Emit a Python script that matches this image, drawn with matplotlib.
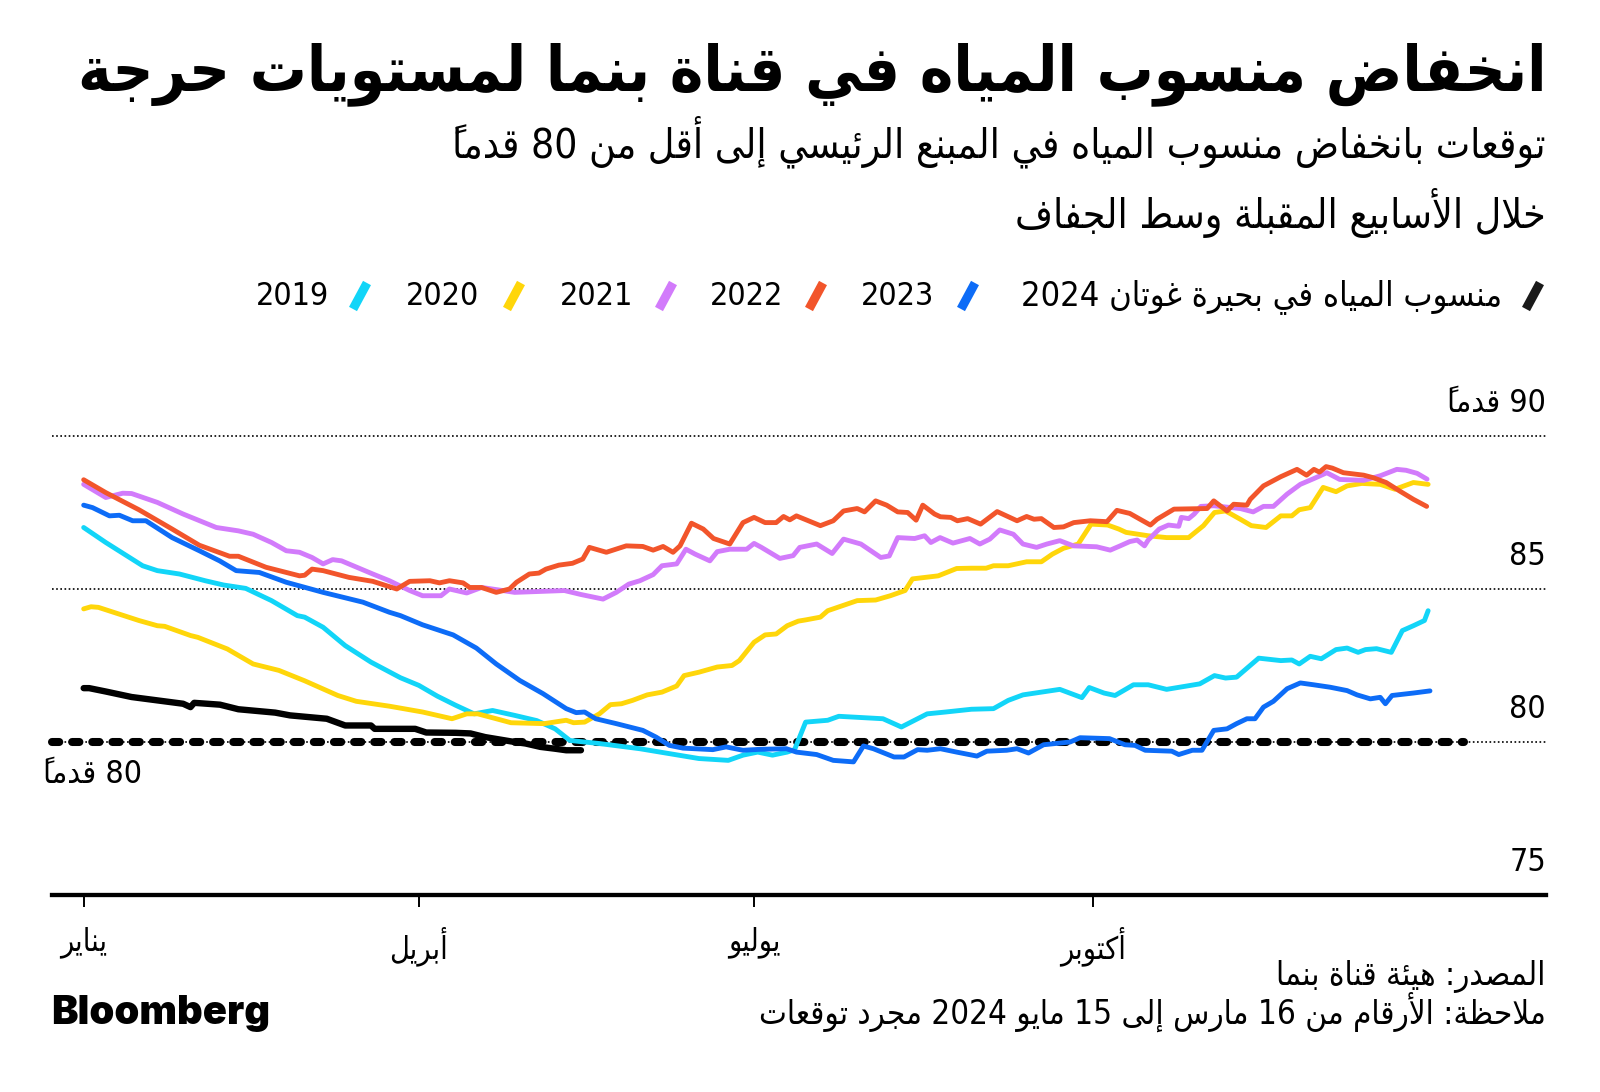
import numpy as np
import matplotlib
matplotlib.use("Agg")
import matplotlib.pyplot as plt
from matplotlib.lines import Line2D

plt.rcParams['font.family'] = ['DejaVu Sans']
plt.rcParams['font.stretch'] = 'condensed'

# --- data (day of year, lake level in feet) ---
lake_2019 = [(0, 87.01), (6, 86.52), (16, 85.76), (20, 85.6), (26, 85.49), (33, 85.27), (38, 85.13),
             (44, 85.02), (51, 84.62), (58, 84.13), (60, 84.08), (65, 83.75), (71, 83.15), (78, 82.61),
             (86, 82.1), (91, 81.85), (96, 81.5), (101, 81.2), (106, 80.92), (111, 81.03), (117, 80.87),
             (123, 80.7), (128, 80.43), (132, 80.05), (140, 79.95), (151, 79.78), (159, 79.62),
             (167, 79.46), (175, 79.4), (179, 79.57), (183, 79.67), (187, 79.57), (191, 79.67),
             (193, 79.75), (196, 80.65), (202, 80.71), (205, 80.84), (217, 80.76), (222, 80.49),
             (229, 80.92), (234, 80.98), (241, 81.07), (247, 81.09), (251, 81.36), (255, 81.54),
             (260, 81.63), (265, 81.72), (271, 81.45), (273, 81.78), (277, 81.6), (280, 81.52),
             (285, 81.87), (289, 81.87), (294, 81.72), (298, 81.8), (303, 81.9), (307, 82.17),
             (310, 82.09), (313, 82.12), (319, 82.74), (325, 82.66), (328, 82.68), (330, 82.55),
             (333, 82.8), (336, 82.72), (340, 83.02), (343, 83.07), (346, 82.93), (348, 83.02),
             (351, 83.05), (353, 82.99), (355, 82.93), (358, 83.64), (361, 83.8), (364, 83.97),
             (365, 84.29)]

lake_2020 = [(0, 84.35), (2, 84.42), (4, 84.4), (15, 83.97), (20, 83.8), (22, 83.78), (29, 83.48),
             (31, 83.42), (39, 83.04), (46, 82.55), (53, 82.34), (60, 82.0), (69, 81.52), (74, 81.33),
             (83, 81.17), (92, 80.98), (100, 80.76), (104, 80.92), (107, 80.92), (112, 80.76),
             (116, 80.63), (125, 80.6), (131, 80.71), (133, 80.63), (136, 80.65), (140, 80.92),
             (143, 81.22), (146, 81.25), (149, 81.36), (153, 81.54), (157, 81.63), (161, 81.83),
             (163, 82.17), (167, 82.28), (172, 82.45), (176, 82.5), (178, 82.66), (182, 83.26),
             (185, 83.5), (188, 83.53), (191, 83.8), (194, 83.95), (196, 83.99), (200, 84.08),
             (202, 84.29), (210, 84.62), (215, 84.64), (219, 84.78), (223, 84.95), (225, 85.33),
             (232, 85.43), (237, 85.67), (241, 85.68), (245, 85.68), (247, 85.76), (251, 85.76),
             (256, 85.89), (260, 85.89), (263, 86.14), (266, 86.33), (270, 86.47), (273.5, 87.12),
             (278, 87.09), (281, 86.96), (283, 86.85), (289, 86.74), (294, 86.68), (300, 86.68),
             (304, 87.07), (307, 87.5), (310, 87.55), (314, 87.28), (317, 87.07), (321, 87.01),
             (325, 87.39), (328, 87.39), (330, 87.59), (333, 87.66), (336.5, 88.32), (340, 88.18),
             (343, 88.37), (347, 88.45), (352, 88.42), (356, 88.26), (361, 88.48), (365, 88.42)]

lake_2021 = [(0, 88.42), (6, 87.99), (10.6, 88.13), (13, 88.12), (20, 87.83), (27, 87.45), (36, 87.01),
             (42, 86.9), (46, 86.79), (51, 86.52), (55, 86.25), (58.6, 86.2), (62, 86.03), (65, 85.82),
             (67.6, 85.96), (70, 85.92), (78.5, 85.49), (83, 85.27), (88.5, 84.95), (92, 84.78),
             (97, 84.78), (99.3, 85.0), (104, 84.87), (108, 85.05), (112.6, 84.97), (117, 84.89),
             (121.5, 84.91), (130.5, 84.95), (135, 84.82), (141, 84.67), (144.6, 84.89), (148, 85.16),
             (151, 85.27), (154.6, 85.47), (157, 85.76), (161, 85.82), (163.5, 86.3), (166, 86.14),
             (170, 85.92), (172, 86.22), (175.4, 86.3), (180, 86.3), (182, 86.49), (184, 86.36),
             (189, 86.0), (192.6, 86.09), (194.4, 86.36), (199, 86.47), (203.2, 86.16), (206.3, 86.63),
             (211, 86.47), (216.4, 86.03), (218.7, 86.08), (221, 86.68), (225.6, 86.65), (228.3, 86.74),
             (230, 86.52), (232.5, 86.68), (236, 86.5), (240.6, 86.65), (243.3, 86.47), (246, 86.63),
             (248.7, 86.93), (252.4, 86.79), (255, 86.47), (258.7, 86.36), (261.5, 86.47), (265, 86.58),
             (268.7, 86.41), (275, 86.38), (278.7, 86.27), (281.4, 86.41), (284, 86.55), (286, 86.6),
             (288, 86.41), (289, 86.6), (292, 86.96), (294.5, 87.09), (297.3, 87.05), (298, 87.34),
             (300, 87.3), (301.5, 87.45), (303.3, 87.7), (306.8, 87.72), (314, 87.63), (317.5, 87.52),
             (320.3, 87.7), (323, 87.7), (326.7, 88.1), (330.3, 88.42), (334, 88.61), (337.5, 88.8),
             (341, 88.58), (347.5, 88.55), (352, 88.7), (356.5, 88.91), (359, 88.88), (362, 88.78),
             (364.7, 88.59)]

lake_2022 = [(0, 88.57), (6, 88.15), (15, 87.59), (24, 86.96), (31.4, 86.43), (39.6, 86.07), (42, 86.07),
             (49.5, 85.71), (58.6, 85.43), (60, 85.45), (62, 85.65), (65, 85.6), (72, 85.38),
             (78.5, 85.25), (85, 85.0), (88.5, 85.25), (94, 85.27), (96.6, 85.2), (99.3, 85.27),
             (103, 85.2), (104.8, 85.05), (108, 85.05), (112, 84.89), (115.6, 85.0), (117.5, 85.22),
             (121, 85.49), (123.6, 85.52), (125.5, 85.65), (129, 85.78), (132.7, 85.84), (135.5, 85.98),
             (137.3, 86.36), (141.9, 86.2), (147.3, 86.41), (151.8, 86.39), (154.6, 86.27),
             (157.3, 86.39), (160, 86.2), (161.9, 86.41), (165, 87.15), (168.2, 86.96), (171, 86.65),
             (175.4, 86.47), (179, 87.17), (182, 87.34), (185, 87.17), (188, 87.17), (190, 87.37),
             (191.7, 87.26), (193.5, 87.39), (200, 87.07), (203.5, 87.23), (206.3, 87.55), (210, 87.63),
             (212, 87.52), (215, 87.88), (218, 87.74), (221, 87.52), (223.7, 87.5), (226, 87.25),
             (227.8, 87.74), (231, 87.45), (232.6, 87.36), (235.4, 87.34), (237.2, 87.23), (240, 87.3),
             (243.5, 87.12), (248, 87.53), (253.4, 87.23), (256, 87.37), (258, 87.28), (260, 87.3),
             (263.4, 87.01), (266, 87.03), (268.8, 87.17), (273.3, 87.23), (277.8, 87.2), (280.5, 87.57),
             (284, 87.47), (286.5, 87.3), (289.6, 87.09), (291.4, 87.28), (296, 87.61), (305, 87.63),
             (306.8, 87.88), (310.4, 87.55), (312.2, 87.77), (315.8, 87.74), (316.7, 87.93),
             (320.3, 88.37), (325, 88.67), (329.4, 88.91), (332, 88.72), (334, 88.91), (335.5, 88.82),
             (337.3, 89.0), (339, 88.95), (342, 88.8), (347.5, 88.72), (350, 88.64), (353.6, 88.48),
             (357.3, 88.2), (361, 87.93), (364.6, 87.7)]

lake_2023 = [(0, 87.74), (2.4, 87.66), (7, 87.39), (9.7, 87.41), (13.3, 87.23), (16.9, 87.23), (24, 86.68),
             (31.4, 86.25), (36.9, 85.92), (41.4, 85.6), (47.7, 85.54), (55, 85.22), (65, 84.89),
             (75.8, 84.57), (83, 84.24), (86, 84.13), (92, 83.83), (100.3, 83.5), (106.6, 83.07),
             (112, 82.55), (118.4, 82.01), (124.7, 81.58), (131, 81.09), (133.7, 80.96), (136, 80.98),
             (139, 80.76), (144.6, 80.6), (151.8, 80.38), (155.4, 80.16), (159, 79.89), (162.7, 79.8),
             (170.8, 79.75), (174.4, 79.84), (179, 79.73), (183.5, 79.76), (190.8, 79.78), (193.5, 79.67),
             (199, 79.59), (203.5, 79.4), (209, 79.35), (211.7, 79.87), (214.4, 79.78), (220, 79.51),
             (222.7, 79.51), (226.4, 79.75), (229, 79.73), (232.6, 79.78), (237, 79.67), (242.5, 79.54),
             (245.2, 79.7), (250.6, 79.73), (253.4, 79.78), (256.5, 79.64), (260.6, 79.91), (267.8, 80.0),
             (270.5, 80.14), (278.5, 80.11), (282.7, 79.91), (285.4, 79.89), (288.2, 79.73), (295.4, 79.7),
             (297.3, 79.59), (301, 79.73), (303.6, 79.73), (306.8, 80.38), (310.4, 80.43), (313, 80.6),
             (315.8, 80.76), (318, 80.76), (320.3, 81.14), (323, 81.33), (326.7, 81.74), (330.3, 81.93),
             (333.9, 81.87), (338.4, 81.79), (343, 81.68), (345.7, 81.54), (349.3, 81.41), (352, 81.46),
             (353.4, 81.25), (355.2, 81.52), (361, 81.6), (365.5, 81.67)]

lake_2024 = [(0, 81.76), (1.5, 81.76), (6, 81.65), (13, 81.47), (20, 81.36), (27, 81.25), (29, 81.14),
             (30, 81.28), (37, 81.22), (42, 81.07), (52, 80.96), (56, 80.87), (66, 80.76), (71, 80.54),
             (78, 80.54), (79, 80.43), (90, 80.43), (93, 80.31), (101, 80.3), (105, 80.28), (109, 80.16),
             (116, 80.02), (120, 79.95), (124, 79.84), (128, 79.78), (131, 79.73), (135, 79.73)]

threshold = 80
threshold_days = [-8.6, 374.8]

years = ['2019', '2020', '2021', '2022', '2023']
colors = ['#12D5F8', '#FFD60A', '#D27BFB', '#F2552B', '#0D6CF7']
series = [lake_2019, lake_2020, lake_2021, lake_2022, lake_2023]

month_days = [0, 91, 182, 274]
month_names = ['يناير', 'أبريل', 'يوليو', 'أكتوبر']
grid_values = [80, 85, 90]
ylabels = [(90, '90 قدماً'), (85, '85'), (80, '80'), (75, '75')]

title = 'انخفاض منسوب المياه في قناة بنما لمستويات حرجة'
subtitle1 = 'توقعات بانخفاض منسوب المياه في المبنع الرئيسي إلى أقل من 80 قدماً'
subtitle2 = 'خلال الأسابيع المقبلة وسط الجفاف'
lake_label = 'منسوب المياه في بحيرة غوتان 2024'
source = 'المصدر: هيئة قناة بنما'
note = 'ملاحظة: الأرقام من 16 مارس إلى 15 مايو 2024 مجرد توقعات'


# --- arabic shaping: matplotlib has none, so map to presentation forms and reverse ---
LETTERS = "ءآأؤإئابةتثجحخدذرزسشصضطظعغفقكلمنهوىي"
N_FORMS = [1, 2, 2, 2, 2, 4, 2, 4, 2, 4, 4, 4, 4, 4, 2, 2, 2, 2, 4, 4, 4, 4, 4, 4, 4, 4, 4, 4, 4, 4, 4, 4, 4, 2, 2, 4]
FORMS = {}
code = 0xFE80
for ch, n in zip(LETTERS, N_FORMS):
    FORMS[ch] = [chr(code + k) for k in range(n)]
    code += n
LAM_ALEF = {'آ': ('\uFEF5', '\uFEF6'), 'أ': ('\uFEF7', '\uFEF8'),
            'إ': ('\uFEF9', '\uFEFA'), 'ا': ('\uFEFB', '\uFEFC')}


def is_mark(c):
    return '\u064B' <= c <= '\u0652'


def ar(text):
    chars = list(text)
    n = len(chars)

    def near(i, step):
        j = i + step
        while 0 <= j < n and is_mark(chars[j]):
            j += step
        return j if 0 <= j < n else None

    units = []
    i = 0
    while i < n:
        c = chars[i]
        if is_mark(c) and units:
            units[-1] += c
            i += 1
            continue
        if c not in FORMS:
            units.append(c)
            i += 1
            continue
        p = near(i, -1)
        prev_joins = p is not None and len(FORMS.get(chars[p], [])) == 4
        nx = near(i, 1)
        if c == 'ل' and nx is not None and chars[nx] in LAM_ALEF:
            units.append(LAM_ALEF[chars[nx]][1 if prev_joins else 0])
            i = nx + 1
            continue
        next_joins = nx is not None and chars[nx] in FORMS
        f = FORMS[c]
        if len(f) == 4:
            idx = (3 if next_joins else 1) if prev_joins else (2 if next_joins else 0)
        elif len(f) == 2:
            idx = 1 if prev_joins else 0
        else:
            idx = 0
        units.append(f[idx])
        i += 1

    # keep numbers left-to-right, put marks ahead of their letter
    out = []
    for u in units:
        if u.isdigit() and out and out[-1].isdigit():
            out[-1] += u
        else:
            out.append(u)
    return ''.join(u if u.isdigit() else u[::-1] for u in reversed(out))


W, H = 1600, 1092


def fx(px):
    return px / W


def fy(py):
    return 1 - py / H


fig = plt.figure(figsize=(16, 10.92), dpi=100)
ax = fig.add_axes([fx(52), fy(895), fx(1546) - fx(52), 16 * 30.6 / H])
ax.set_xlim(-8.6, 397)
ax.set_ylim(75, 91)

for s in ['top', 'left', 'right']:
    ax.spines[s].set_visible(False)
ax.spines['bottom'].set_linewidth(3.1)
ax.set_yticks([])
ax.set_xticks(month_days, [ar(m) for m in month_names])
ax.tick_params(axis='x', length=8.6, width=1.4, pad=14, labelsize=22)

for v in grid_values:
    ax.axhline(v, color='black', lw=1.2, ls=(0, (1, 1.5)), zorder=1)

ax.plot(threshold_days, [threshold, threshold], color='black', lw=5.8,
        dashes=(0.9, 1.6), dash_capstyle='round', zorder=2, clip_on=False)

for i, (data, c) in enumerate(zip(series, colors)):
    arr = np.array(data)
    ax.plot(arr[:, 0], arr[:, 1], color=c, lw=3.5, solid_capstyle='round',
            solid_joinstyle='round', zorder=3 + i)

arr = np.array(lake_2024)
ax.plot(arr[:, 0], arr[:, 1], color='black', lw=4.6, solid_capstyle='round',
        solid_joinstyle='round', zorder=10)

for v, lab in ylabels:
    ax.annotate(ar(lab), xy=(1, v), xycoords=('axes fraction', 'data'), xytext=(0, 17.5),
                textcoords='offset points', ha='right', va='baseline', fontsize=23)

ax.annotate(ar('80 قدماً'), xy=(0, threshold), xycoords=('axes fraction', 'data'), xytext=(-6.5, -29.5),
            textcoords='offset points', ha='left', va='baseline', fontsize=23)

# --- titles ---
t_title = fig.text(fx(1546), fy(90), ar(title), ha='right', va='baseline', fontsize=44, fontweight='bold')
t_sub1 = fig.text(fx(1546), fy(157), ar(subtitle1), ha='right', va='baseline', fontsize=24)
t_sub2 = fig.text(fx(1546), fy(228), ar(subtitle2), ha='right', va='baseline', fontsize=24)

# --- legend (right to left) ---
leg_labels = [lake_label] + years[::-1]
leg_colors = ['#1a1a1a'] + colors[::-1]
leg_swatch_x = [1533, 968, 816, 666, 514, 360]
leg_text_right = [1502, 934, 783, 633, 479, 329]
leg_texts = []
for lab, c, sx, tx in zip(leg_labels, leg_colors, leg_swatch_x, leg_text_right):
    fig.add_artist(Line2D([fx(sx - 7), fx(sx + 7)], [fy(309), fy(283)], transform=fig.transFigure,
                          color=c, lw=6.5, solid_capstyle='butt'))
    leg_texts.append(fig.text(fx(tx), fy(305), ar(lab), ha='right', va='baseline', fontsize=23))

# --- footer ---
t_source = fig.text(fx(1546), fy(985), ar(source), ha='right', va='baseline', fontsize=20)
t_note = fig.text(fx(1546), fy(1024), ar(note), ha='right', va='baseline', fontsize=20)
t_logo = fig.text(fx(51), fy(1024), 'Bloomberg', ha='left', va='baseline', fontsize=26,
                  fontweight='black', family=['Inter', 'DejaVu Sans'], fontstretch='normal')


def fit_width(t, px):
    r = fig.canvas.get_renderer()
    w = t.get_window_extent(renderer=r).width
    t.set_fontsize(t.get_fontsize() * px / w)


fit_width(t_title, 1469)
fit_width(t_sub1, 1094)
t_sub2.set_fontsize(t_sub1.get_fontsize())
fit_width(t_note, 786)
t_source.set_fontsize(t_note.get_fontsize())
fit_width(t_logo, 219)
fit_width(leg_texts[0], 482)

fig.savefig('out.png', dpi=100, facecolor='white')
